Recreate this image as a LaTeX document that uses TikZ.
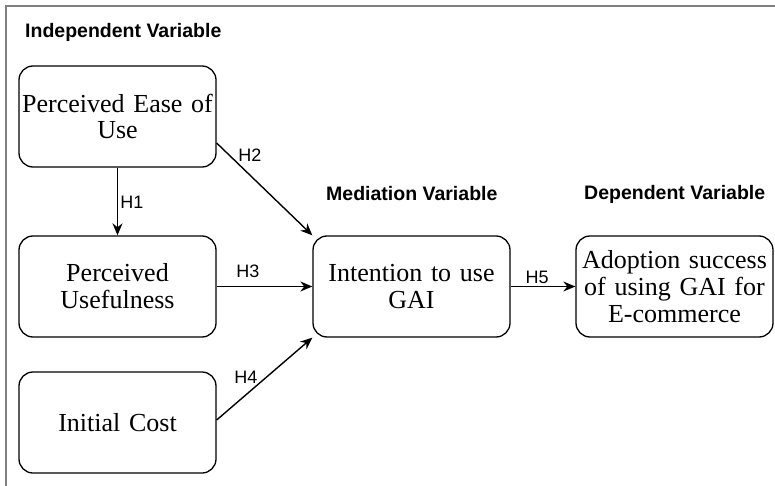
\documentclass[tikz,border=0pt]{standalone}
\usepackage{fontspec}
\setmainfont{Liberation Serif}
\newfontfamily\arialf{Liberation Sans}
\usetikzlibrary{arrows.meta}
\begin{document}
\begin{tikzpicture}[x=1pt,y=-1pt,
  box/.style={draw, line width=1.3pt, rounded corners=14pt, minimum width=197pt, minimum height=101pt, text width=195pt, align=center, font=\fontsize{26}{26.8}\selectfont, inner sep=1pt},
  head/.style={font=\arialf\bfseries\fontsize{19.5}{22}\selectfont, anchor=west, inner sep=0pt},
  hl/.style={font=\arialf\fontsize{18}{20}\selectfont, inner sep=0pt},
  arr/.style={line width=1.4pt, -{Stealth[length=12pt,width=10pt]}}]
\useasboundingbox (0,0) rectangle (775,486);
\draw[gray, line width=1.5pt] (6,486) -- (6,6) -- (775,6);
\node[head] (hi) at (25,32) {Independent Variable};
\node[head] (hm) at (326,194) {Mediation Variable};
\node[head] (hd) at (584,194) {Dependent Variable};
\node[box] (peou) at (117.5,116.5) {Perceived Ease of\\Use};
\node[box] (pu) at (117.5,286.5) {Perceived\\Usefulness};
\node[box] (ic) at (117.5,422.5) {Initial Cost};
\node[box] (int) at (411.5,286.5) {Intention to use\\GAI};
\node[box] (ad) at (674.5,286.5) {Adoption success\\of using GAI for\\E-commerce};
\draw[arr] (peou.south) -- (pu.north);
\draw[arr] ([yshift=-26.5pt]peou.east) -- (int.north west);
\draw[arr] (pu.east) -- (int.west);
\draw[arr] ([yshift=2.5pt]ic.east) -- (int.south west);
\draw[arr] (int.east) -- (ad.west);
\node[hl] (h1) at (132,202) {H1};
\node[hl] (h2) at (250,155) {H2};
\node[hl] (h3) at (248,271) {H3};
\node[hl] (h4) at (246,377) {H4};
\node[hl] (h5) at (537,277) {H5};
\end{tikzpicture}
\end{document}
